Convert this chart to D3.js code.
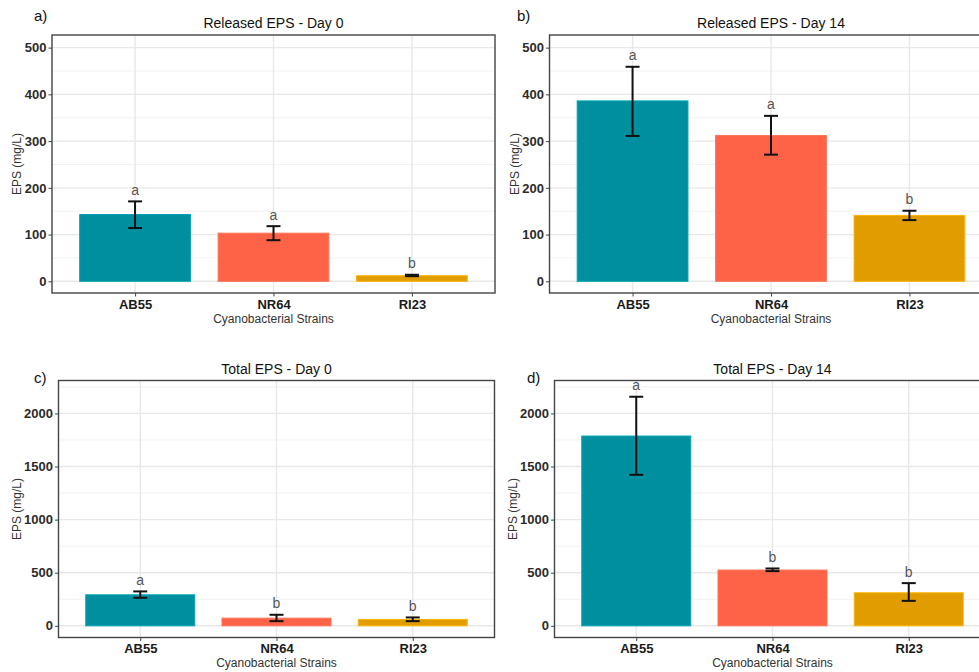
<!DOCTYPE html>
<html>
<head>
<meta charset="utf-8">
<script src="https://cdn.jsdelivr.net/npm/d3@7"></script>
<style>
  body { margin: 0; background: #fff; }
  svg { display: block; font-family: "Liberation Sans", Arial, sans-serif; }
</style>
</head>
<body>
<svg id="chart" width="979" height="672"></svg>
<script>
// ---- data ----
const strains = ["AB55", "NR64", "RI23"];
const barColors = ["#008F9F", "#FF6347", "#E09C00"];

const titles = ["Released EPS - Day 0", "Released EPS - Day 14", "Total EPS - Day 0", "Total EPS - Day 14"];
const panelTags = ["a)", "b)", "c)", "d)"];

const releasedDay0Mean = [143, 103, 12];
const releasedDay0Low = [114, 88, 11];
const releasedDay0High = [171, 118, 14];
const releasedDay0Letters = ["a", "a", "b"];

const releasedDay14Mean = [386, 312, 141];
const releasedDay14Low = [311, 271, 131];
const releasedDay14High = [459, 354, 151];
const releasedDay14Letters = ["a", "a", "b"];

const totalDay0Mean = [292, 72, 60];
const totalDay0Low = [264, 44, 44];
const totalDay0High = [324, 104, 79];
const totalDay0Letters = ["a", "b", "b"];

const totalDay14Mean = [1787, 525, 311];
const totalDay14Low = [1422, 515, 235];
const totalDay14High = [2157, 540, 402];
const totalDay14Letters = ["a", "b", "b"];

const releasedTicks = [0, 100, 200, 300, 400, 500];
const releasedMinor = [50, 150, 250, 350, 450];
const totalTicks = [0, 500, 1000, 1500, 2000];
const totalMinor = [250, 750, 1250, 1750, 2250];

const releasedDomain = [-25, 527];
const totalDomain = [-110, 2310];

const xTitle = "Cyanobacterial Strains";
const yTitle = "EPS (mg/L)";

// ---- layout ----
const panels = [
  { box: { l: 52, t: 35, w: 443, h: 258 }, tag: [34, 21], yTitleX: 17,
    mean: releasedDay0Mean, lo: releasedDay0Low, hi: releasedDay0High, letters: releasedDay0Letters,
    ticks: releasedTicks, minor: releasedMinor, domain: releasedDomain },
  { box: { l: 549.5, t: 35, w: 443, h: 258 }, tag: [517, 21], yTitleX: 515,
    mean: releasedDay14Mean, lo: releasedDay14Low, hi: releasedDay14High, letters: releasedDay14Letters,
    ticks: releasedTicks, minor: releasedMinor, domain: releasedDomain },
  { box: { l: 58.5, t: 380.5, w: 436, h: 257 }, tag: [34, 383], yTitleX: 17,
    mean: totalDay0Mean, lo: totalDay0Low, hi: totalDay0High, letters: totalDay0Letters,
    ticks: totalTicks, minor: totalMinor, domain: totalDomain },
  { box: { l: 554.5, t: 380.5, w: 436, h: 257 }, tag: [527, 383], yTitleX: 513,
    mean: totalDay14Mean, lo: totalDay14Low, hi: totalDay14High, letters: totalDay14Letters,
    ticks: totalTicks, minor: totalMinor, domain: totalDomain }
];

const svg = d3.select("#chart");

panels.forEach((p, i) => {
  const { l, t, w, h } = p.box;
  const g = svg.append("g");

  // ggplot-like discrete scale: centres 0.6 units from the edges, bar width 0.8 units
  const x = d3.scalePoint().domain(strains).range([l + w * 0.6 / 3.2, l + w - w * 0.6 / 3.2]);
  const cx = s => x(s);
  const bw = (w / 3.2) * 0.8;
  const y = d3.scaleLinear().domain(p.domain).range([t + h, t]);

  // grid
  g.selectAll(".minor").data(p.minor.filter(v => v >= p.domain[0] && v <= p.domain[1])).join("line")
    .attr("x1", l).attr("x2", l + w).attr("y1", d => y(d)).attr("y2", d => y(d))
    .attr("stroke", "#f2f2f2").attr("stroke-width", 1);
  g.selectAll(".major").data(p.ticks).join("line")
    .attr("x1", l).attr("x2", l + w).attr("y1", d => y(d)).attr("y2", d => y(d))
    .attr("stroke", "#e8e8e8").attr("stroke-width", 1.4);
  g.selectAll(".vgrid").data(strains).join("line")
    .attr("x1", d => cx(d)).attr("x2", d => cx(d)).attr("y1", t).attr("y2", t + h)
    .attr("stroke", "#e8e8e8").attr("stroke-width", 1.4);

  // bars
  g.selectAll(".bar").data(strains).join("rect")
    .attr("x", d => cx(d) - bw / 2)
    .attr("width", bw)
    .attr("y", (d, j) => y(p.mean[j]))
    .attr("height", (d, j) => y(0) - y(p.mean[j]))
    .attr("fill", (d, j) => barColors[j])
    .attr("stroke", (d, j) => d3.color(barColors[j]).brighter(0.4))
    .attr("stroke-width", 1);

  // error bars
  const capW = 14;
  strains.forEach((s, j) => {
    const xc = cx(s);
    const y1 = y(p.hi[j]), y2 = y(p.lo[j]);
    g.append("line").attr("x1", xc).attr("x2", xc).attr("y1", y1).attr("y2", y2)
      .attr("stroke", "#111").attr("stroke-width", 2);
    [y1, y2].forEach(yy => g.append("line").attr("x1", xc - capW / 2).attr("x2", xc + capW / 2)
      .attr("y1", yy).attr("y2", yy).attr("stroke", "#111").attr("stroke-width", 2));
    g.append("text").attr("x", xc).attr("y", y1 - 6.5).attr("text-anchor", "middle")
      .attr("font-size", 14).attr("fill", "#555").text(p.letters[j]);
  });

  // border
  g.append("rect").attr("x", l).attr("y", t).attr("width", w).attr("height", h)
    .attr("fill", "none").attr("stroke", "#444").attr("stroke-width", 1.4);

  // y axis
  const yAxis = d3.axisLeft(y).tickValues(p.ticks).tickSize(3.5).tickPadding(2).tickFormat(d3.format("d"));
  const ya = g.append("g").attr("transform", `translate(${l},0)`).call(yAxis);
  ya.select(".domain").remove();
  ya.selectAll("line").attr("stroke", "#444");
  ya.selectAll("text").attr("font-size", 13).attr("font-weight", "bold").attr("fill", "#2b2b2b")
    .attr("font-family", "Liberation Sans, Arial, sans-serif");

  // x axis
  const xAxis = d3.axisBottom(x).tickSize(3.5).tickPadding(3);
  const xa = g.append("g").attr("transform", `translate(0,${t + h})`).call(xAxis);
  xa.select(".domain").remove();
  xa.selectAll("line").attr("stroke", "#444");
  xa.selectAll("text").attr("font-size", 13).attr("font-weight", "bold").attr("fill", "#1a1a1a")
    .attr("font-family", "Liberation Sans, Arial, sans-serif");

  // axis titles
  g.append("text").attr("x", l + w / 2).attr("y", t + h + 29.5).attr("text-anchor", "middle")
    .attr("font-size", 12).attr("fill", "#333").text(xTitle);
  g.append("text").attr("transform", `translate(${p.yTitleX + 4},${t + h / 2}) rotate(-90)`)
    .attr("text-anchor", "middle").attr("font-size", 12).attr("fill", "#333").text(yTitle);

  // title
  g.append("text").attr("x", l + w / 2).attr("y", t - 7).attr("text-anchor", "middle")
    .attr("font-size", 14).attr("fill", "#111").text(titles[i]);

  // tag
  g.append("text").attr("x", p.tag[0]).attr("y", p.tag[1]).attr("text-anchor", "start")
    .attr("font-size", 15).attr("fill", "#111").text(panelTags[i]);
});
</script>
</body>
</html>
